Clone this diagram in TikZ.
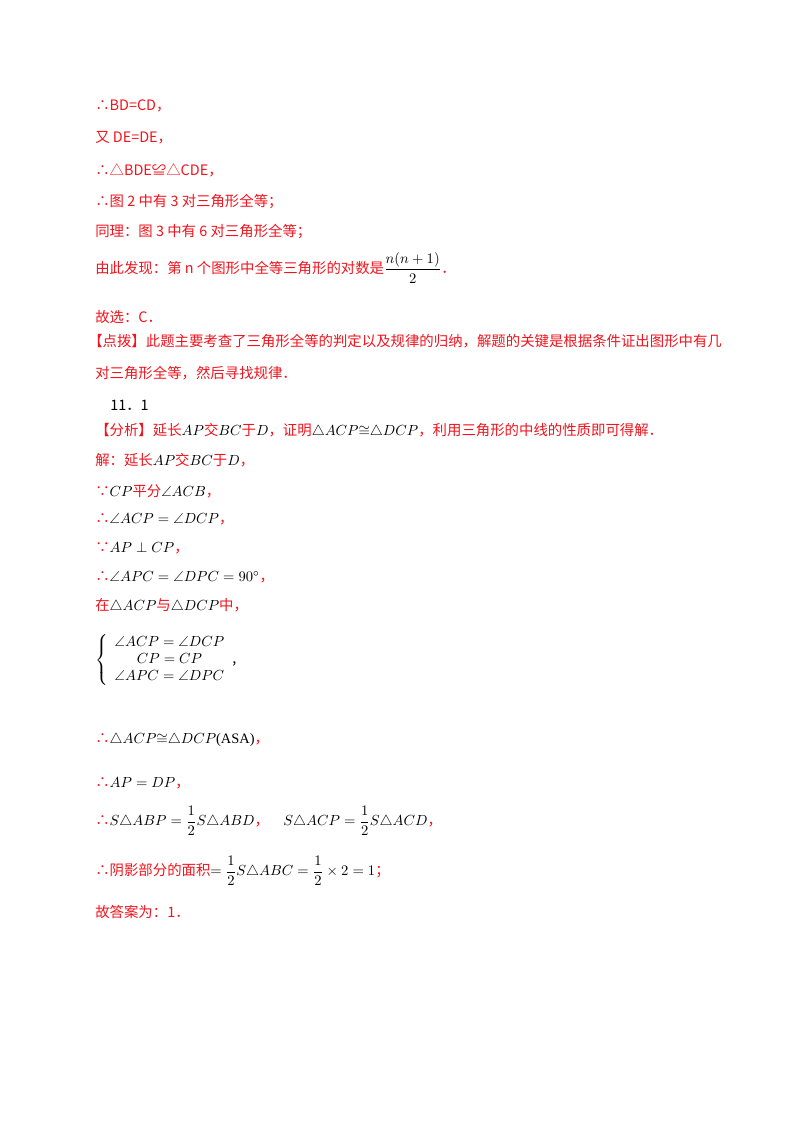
\documentclass[tikz,border=0pt]{standalone}
\usepackage{amsmath,amssymb}
\usepackage{fontspec}
\setmainfont{Liberation Sans}
\newfontfamily\cjk{Noto Sans CJK SC}
\newfontfamily\tms{Liberation Serif}
\definecolor{tred}{RGB}{240,20,30}
\tikzset{ln/.style={anchor=west,inner sep=0pt,font=\fontsize{10.8pt}{13pt}\selectfont\cjk,text=tred}}
\newcommand{\mth}[1]{\textcolor{black}{$#1$}}
\begin{document}
\begin{tikzpicture}[x=0.75pt,y=-0.75pt]
\useasboundingbox (0,0) rectangle (800,1132);
\node[ln] (l1) at (95,106) {∴BD=CD，};
\node[ln] (l2) at (95,138) {又 DE=DE，};
\node[ln] (l3) at (95,170) {∴△BDE≌△CDE，};
\node[ln] (l4) at (95,202) {∴图 2 中有 3 对三角形全等；};
\node[ln] (l5) at (95,232) {同理：图 3 中有 6 对三角形全等；};
\node[ln] (l6) at (95,268) {由此发现：第 n 个图形中全等三角形的对数是\mth{\dfrac{n(n+1)}{2}}．};
\node[ln] (l7) at (95,317) {故选：C．};
\node[ln] (l8) at (88,341) {【点拨】此题主要考查了三角形全等的判定以及规律的归纳，解题的关键是根据条件证出图形中有几};
\node[ln] (l9) at (95,373) {对三角形全等，然后寻找规律．};
\node[ln,text=black] (l10) at (110,405) {11．1};
\node[ln] (l11) at (95,431) {【分析】延长\mth{AP}交\mth{BC}于\mth{D}，证明\mth{\triangle ACP{\cong}\triangle DCP}，利用三角形的中线的性质即可得解．};
\node[ln] (l12) at (95,460) {解：延长\mth{AP}交\mth{BC}于\mth{D}，};
\node[ln] (l13) at (95,491) {∵\mth{CP}平分\mth{\angle ACB}，};
\node[ln] (l14) at (95,519) {∴\mth{\angle ACP=\angle DCP}，};
\node[ln] (l15) at (95,548) {∵\mth{AP\perp CP}，};
\node[ln] (l16) at (95,577) {∴\mth{\angle APC=\angle DPC=90^\circ}，};
\node[ln] (l17) at (95,606) {在\mth{\triangle ACP}与\mth{\triangle DCP}中，};
\node[ln,text=black] (l18) at (95,660) {$\left\{\begin{array}{c}\angle ACP=\angle DCP\\ CP=CP\\ \angle APC=\angle DPC\end{array}\right.$,};
\node[ln] (l19) at (95,740) {∴\mth{\triangle ACP{\cong}\triangle DCP}\textcolor{black}{\tms(ASA)}，};
\node[ln] (l20) at (95,783) {∴\mth{AP=DP}，};
\node[ln] (l21) at (95,821) {∴\mth{S\triangle ABP=\dfrac12 S\triangle ABD}，\quad\mth{S\triangle ACP=\dfrac12 S\triangle ACD}，};
\node[ln] (l22) at (95,871) {∴阴影部分的面积\mth{=\dfrac12 S\triangle ABC=\dfrac12\times2=1}；};
\node[ln] (l23) at (95,912) {故答案为：1．};
\end{tikzpicture}
\end{document}
